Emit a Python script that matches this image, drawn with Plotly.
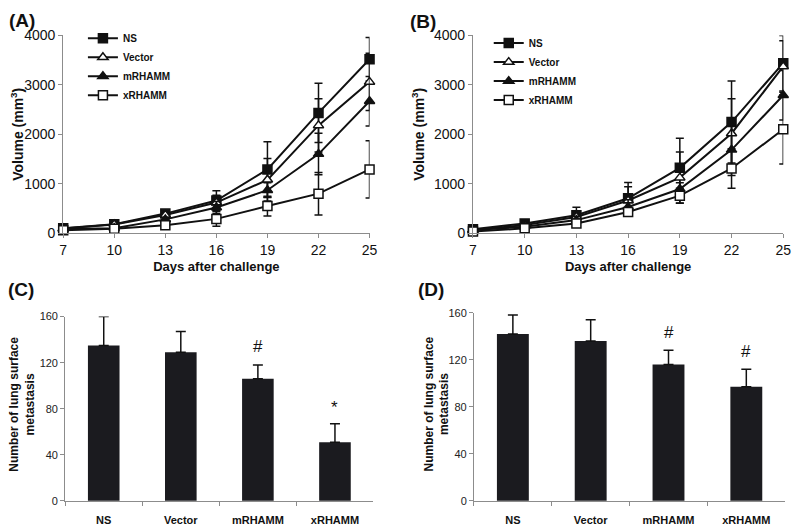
import plotly.graph_objects as go

days = [7, 10, 13, 16, 19, 22, 25]
groups = ["NS", "Vector", "mRHAMM", "xRHAMM"]

# Panel A volumes and SD
a_ns = [100, 180, 397, 661, 1289, 2433, 3517]
a_vec = [95, 175, 370, 620, 1080, 2180, 3060]
a_mr = [85, 100, 280, 520, 870, 1600, 2670]
a_xr = [60, 90, 160, 290, 550, 800, 1290]
a_ns_err = [15, 30, 50, 200, 560, 600, 440]
a_vec_err = [15, 25, 40, 150, 430, 540, 580]
a_mr_err = [10, 20, 40, 120, 150, 420, 500]
a_xr_err = [10, 20, 30, 150, 200, 430, 580]

# Panel B volumes and SD
b_ns = [80, 198, 364, 707, 1322, 2248, 3438]
b_vec = [66, 165, 330, 661, 1124, 2017, 3372]
b_mr = [66, 132, 265, 529, 893, 1686, 2790]
b_xr = [33, 99, 198, 430, 760, 1309, 2102]
b_ns_err = [20, 40, 160, 320, 600, 830, 560]
b_vec_err = [15, 30, 120, 280, 520, 700, 520]
b_mr_err = [10, 25, 80, 150, 130, 520, 500]
b_xr_err = [10, 20, 50, 80, 150, 400, 700]

# Panel C / D metastasis counts
c_vals = [135, 129, 106, 51]
c_err = [25, 18, 12, 16]
c_marks = ["", "", "#", "*"]
c_mark_y = [0, 0, 134, 81]
d_vals = [142, 136, 116, 97]
d_err = [16, 18, 12, 15]
d_marks = ["", "", "#", "#"]
d_mark_y = [0, 0, 143, 127]

FONT = "Liberation Sans, Arial, sans-serif"
BLACK = "#111111"
AX = "#8c8c8c"

symbols = {
    "NS": ("square", BLACK),
    "Vector": ("triangle-up", "white"),
    "mRHAMM": ("triangle-up", BLACK),
    "xRHAMM": ("square", "white"),
}

fig = go.Figure()


def add_lines(series, errs, xa, ya, legend):
    for name, vals, err in zip(groups, series, errs):
        sym, fill = symbols[name]
        fig.add_trace(go.Scatter(
            x=days, y=vals, name=name, mode="lines+markers",
            xaxis=xa, yaxis=ya, legend=legend, cliponaxis=False,
            line=dict(color=BLACK, width=2),
            marker=dict(symbol=sym, size=9,
                        color=fill, line=dict(color=BLACK, width=1.5)),
            error_y=dict(type="data", array=err, visible=True,
                         color=BLACK, thickness=1.5, width=4),
        ))


add_lines([a_ns, a_vec, a_mr, a_xr],
          [a_ns_err, a_vec_err, a_mr_err, a_xr_err], "x", "y", "legend")
add_lines([b_ns, b_vec, b_mr, b_xr],
          [b_ns_err, b_vec_err, b_mr_err, b_xr_err], "x2", "y2", "legend2")


def add_bars(vals, err, marks, mark_y, xa, ya):
    fig.add_trace(go.Bar(
        x=groups, y=vals, xaxis=xa, yaxis=ya, showlegend=False,
        marker=dict(color="#1b1b1f", line=dict(width=0)),
        error_y=dict(type="data", symmetric=False, array=err,
                     arrayminus=[0] * len(err), color=BLACK,
                     thickness=1.5, width=5),
        cliponaxis=False,
    ))
    for g, my, m in zip(groups, mark_y, marks):
        if m:
            fig.add_annotation(x=g, y=my, xref=xa, yref=ya, text=m,
                               showarrow=False, yanchor="middle",
                               font=dict(family=FONT, size=17, color=BLACK))


add_bars(c_vals, c_err, c_marks, c_mark_y, "x3", "y3")
add_bars(d_vals, d_err, d_marks, d_mark_y, "x4", "y4")

H = 529.0
W = 800.0
OFF = 8.0  # page body margin


def px_x(p):
    return (p - OFF) / W


def px_y(p):
    return 1 - (p - OFF) / H


line_x = dict(range=[7, 25], tickvals=days, showline=True, linecolor=AX,
              linewidth=1, ticks="outside", ticklen=4, tickcolor=AX,
              showgrid=False, zeroline=False,
              tickfont=dict(family=FONT, size=14, color=BLACK),
              title=dict(text="<b>Days after challenge</b>", standoff=4,
                         font=dict(family=FONT, size=13, color=BLACK)))
line_y = dict(range=[0, 4000], dtick=1000, showline=True, linecolor=AX,
              linewidth=1, ticks="outside", ticklen=4, tickcolor=AX,
              showgrid=False, zeroline=False,
              tickfont=dict(family=FONT, size=14, color=BLACK),
              title=dict(text="<b>Volume (mm<sup>3</sup>)</b>", standoff=6,
                         font=dict(family=FONT, size=14, color=BLACK)))
bar_x = dict(showline=True, linecolor=AX, linewidth=1, ticks="outside",
             tickson="boundaries", ticklen=4, tickcolor=AX,
             showgrid=False, zeroline=False, ticklabelstandoff=9,
             tickfont=dict(family=FONT, size=11, color=BLACK),
             ticktext=["<b>%s</b>" % g for g in groups], tickvals=groups)
bar_y = dict(range=[0, 160], dtick=40, showline=True, linecolor=AX,
             linewidth=1, ticks="outside", ticklen=4, tickcolor=AX,
             showgrid=False, zeroline=False,
             tickfont=dict(family=FONT, size=11, color="#222222"))

fig.update_layout(
    width=800, height=529,
    margin=dict(l=0, r=0, t=0, b=0),
    paper_bgcolor="white", plot_bgcolor="white",
    bargap=0.59,
    xaxis=dict(line_x, domain=[px_x(60), px_x(371)], anchor="y"),
    yaxis=dict(line_y, domain=[px_y(232), px_y(28)], anchor="x"),
    xaxis2=dict(line_x, domain=[px_x(476), px_x(791)], anchor="y2"),
    yaxis2=dict(line_y, domain=[px_y(232), px_y(28)], anchor="x2"),
    xaxis3=dict(bar_x, domain=[px_x(62), px_x(375)], anchor="y3"),
    yaxis3=dict(bar_y, domain=[px_y(508), px_y(318)], anchor="x3"),
    xaxis4=dict(bar_x, domain=[px_x(477), px_x(793)], anchor="y4"),
    yaxis4=dict(bar_y, domain=[px_y(508), px_y(314)], anchor="x4"),
    legend=dict(x=px_x(80), y=px_y(16), xanchor="left", yanchor="top",
                bgcolor="rgba(0,0,0,0)", itemwidth=30,
                font=dict(family=FONT, size=10, color=BLACK, weight="bold")),
    legend2=dict(x=px_x(492), y=px_y(21), xanchor="left", yanchor="top",
                 bgcolor="rgba(0,0,0,0)", itemwidth=30,
                 font=dict(family=FONT, size=10, color=BLACK, weight="bold")),
)

# y titles of the bar panels
for x in (18, 439):
    fig.add_annotation(x=px_x(x), y=px_y(408), xref="paper", yref="paper",
                       xanchor="center", yanchor="middle", showarrow=False,
                       textangle=-90,
                       text="<b>Number of lung surface<br>metastasis</b>",
                       font=dict(family=FONT, size=12, color=BLACK))

for label, x, y in [("(A)", 3, 13), ("(B)", 410, 14), ("(C)", 2, 290), ("(D)", 418, 290)]:
    fig.add_annotation(x=px_x(x), y=px_y(y), xref="paper", yref="paper",
                       xanchor="left", yanchor="middle", showarrow=False,
                       text="<b>%s</b>" % label,
                       font=dict(family=FONT, size=19, color=BLACK))

fig.write_html("out.html")
